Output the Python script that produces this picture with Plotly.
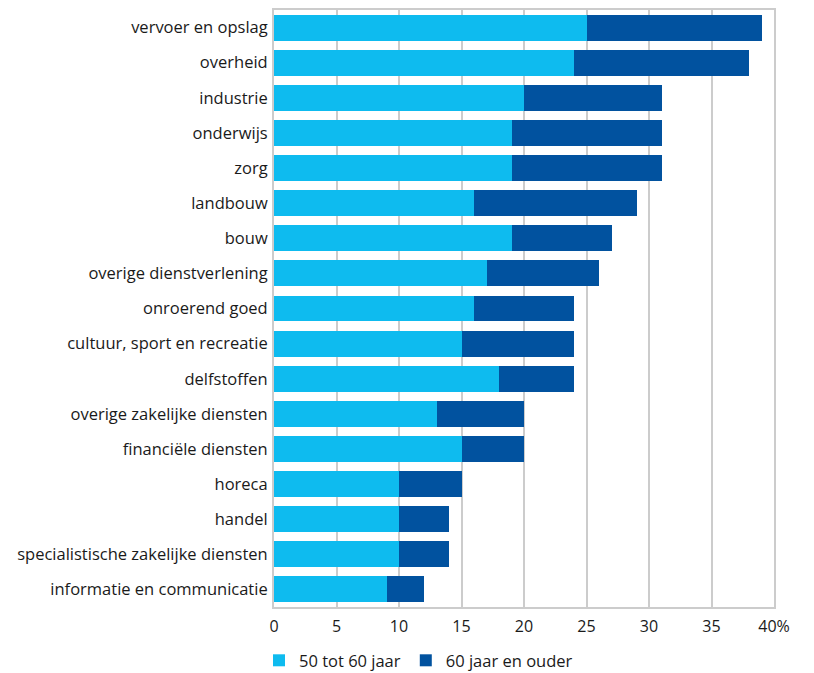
import plotly.graph_objects as go

categories = [
    "vervoer en opslag", "overheid", "industrie", "onderwijs", "zorg",
    "landbouw", "bouw", "overige dienstverlening", "onroerend goed",
    "cultuur, sport en recreatie", "delfstoffen", "overige zakelijke diensten",
    "financiële diensten", "horeca", "handel",
    "specialistische zakelijke diensten", "informatie en communicatie",
]
age_50_60 = [25, 24, 20, 19, 19, 16, 19, 17, 16, 15, 18, 13, 15, 10, 10, 10, 9]
age_60_plus = [14, 14, 11, 12, 12, 13, 8, 9, 8, 9, 6, 7, 5, 5, 4, 4, 3]
tick_vals = [0, 5, 10, 15, 20, 25, 30, 35, 40]
tick_text = ["0", "5", "10", "15", "20", "25", "30", "35", "40%"]

fig = go.Figure()
fig.add_trace(go.Bar(y=categories, x=age_50_60, orientation="h",
                     name="50 tot 60 jaar", marker=dict(color="#0EBBEF", line_width=0)))
fig.add_trace(go.Bar(y=categories, x=age_60_plus, orientation="h",
                     name="60 jaar en ouder", marker=dict(color="#01529F", line_width=0)))

fig.update_layout(
    barmode="stack",
    bargap=0.26,
    width=806, height=665,
    margin=dict(l=266, r=40, t=2, b=66),
    plot_bgcolor="white", paper_bgcolor="white",
    font=dict(family="Open Sans", size=16.5, color="#1a1a1a"),
    legend=dict(orientation="h", x=-0.03, y=0.045, xref="paper", yref="container",
                xanchor="left", yanchor="top",
                font=dict(size=16.5), traceorder="normal"),
    xaxis=dict(range=[0, 40], tickvals=tick_vals, ticktext=tick_text,
               showgrid=True, gridcolor="#CCCCCC", gridwidth=1.5,
               showline=True, linecolor="#CCCCCC", linewidth=2, mirror=True,
               zeroline=False, ticks="", tickfont=dict(size=16), ticklabelstandoff=4,
               automargin=False),
    yaxis=dict(autorange="reversed", showline=True, linecolor="#CCCCCC", linewidth=2,
               mirror=True, ticks="", tickfont=dict(size=16.5), ticklabelstandoff=1,
               automargin=False),
)

fig.write_html("out.html")
